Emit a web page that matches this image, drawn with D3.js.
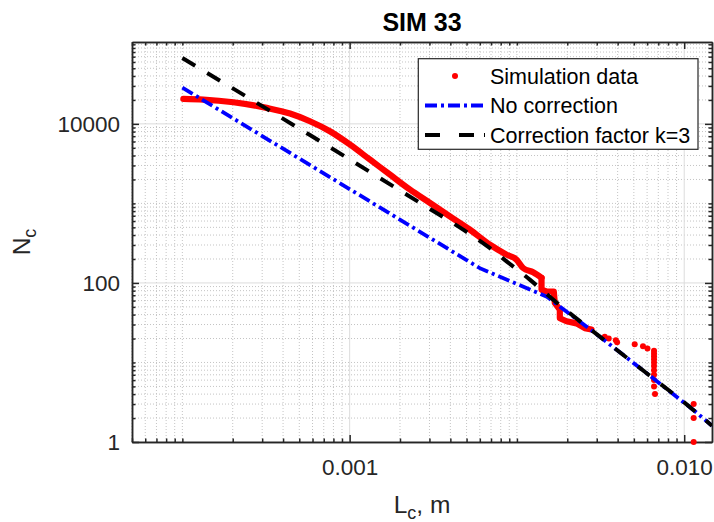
<!DOCTYPE html>
<html>
<head>
<meta charset="utf-8">
<script src="https://cdn.jsdelivr.net/npm/d3@7"></script>
<style>
    html, body { margin: 0; padding: 0; background: #fff; }
    svg { display: block; font-family: "Liberation Sans", Arial, Helvetica, sans-serif; }
</style>
</head>
<body>
<div id="chart"></div>
<script>
// Simulation data: dense part (drawn as a thick run of dots)
const simCurveLc = [1.014e-4, 1.335e-4, 2.017e-4, 3.19e-4, 4.40e-4, 5.79e-4, 7.62e-4, 1.004e-3,
    1.322e-3, 1.740e-3, 2.292e-3, 3.018e-3, 3.973e-3, 5.232e-3, 6.89e-3, 8.67e-3, 9.95e-3,
    1.089e-2, 1.25e-2, 1.403e-2, 1.403e-2, 1.502e-2, 1.661e-2, 1.684e-2, 1.805e-2, 1.805e-2,
    1.978e-2, 2.27e-2, 2.544e-2, 2.79e-2];
const simCurveN = [20620, 20220, 18700, 15890, 13480, 10780, 8070, 5490,
    3556, 2303, 1492, 1015, 688, 468, 303, 227, 196,
    154, 136, 116, 82, 78, 78, 56, 46, 36,
    33, 31, 27, 26];

// Simulation data: sparse tail (single dots)
const simDotLc = [3.35e-2, 3.54e-2, 3.90e-2, 3.97e-2, 5.06e-2, 5.67e-2, 6.03e-2,
    6.60e-2, 6.60e-2, 6.60e-2, 6.60e-2, 6.60e-2, 6.60e-2, 6.60e-2, 6.60e-2, 6.60e-2, 6.60e-2,
    6.69e-2, 0.1139, 0.1139, 0.1139];
const simDotN = [21, 20, 19, 18, 17, 16, 15,
    14, 13, 12, 11, 10, 9, 8, 7, 6, 5,
    4, 3, 2, 1];

// No correction
const noCorrLc = [1.0e-4, 6.0e-3, 1.51e-2, 3.13e-2, 5.94e-2, 0.1129, 0.1466];
const noCorrN = [28600, 153.5, 67, 21.1, 7.38, 2.55, 1.6];

// Correction factor k=3
const corrLc = [1.0e-4, 5.79e-4, 2.947e-3, 4.77e-3, 6.58e-3, 8.67e-3, 1.194e-2, 1.645e-2,
    3.13e-2, 5.94e-2, 0.1129, 0.1466];
const corrN = [67260, 7228, 878, 468, 294.6, 187, 110, 61.7,
    21.1, 7.38, 2.55, 1.6];

const xTickValues = [0.001, 0.1];
const xTickLabels = ["0.001", "0.010"];
const yTickValues = [1, 100, 10000];
const yTickLabels = ["1", "100", "10000"];
const legendLabels = ["Simulation data", "No correction", "Correction factor k=3"];

const margin = { top: 42, right: 2, bottom: 80, left: 132 };
const width = 714 - margin.left - margin.right;
const height = 522 - margin.top - margin.bottom;
const axisColor = "#262626";

const svg = d3.select("#chart").append("svg")
    .attr("width", 714)
    .attr("height", 522);

const plot = svg.append("g")
    .attr("transform", `translate(${margin.left},${margin.top})`);

const x = d3.scaleLog().domain([5e-5, 0.1466]).range([0, width]);
const y = d3.scaleLog().domain([1, 1.07e5]).range([height, 0]);

const isMajor = (v, majors) => majors.some(m => Math.abs(v / m - 1) < 1e-6);
const xMinor = x.ticks().filter(v => !isMajor(v, xTickValues));
const yMinor = y.ticks().filter(v => !isMajor(v, yTickValues));

// grid
plot.append("rect").attr("width", width).attr("height", height).attr("fill", "#fff");

plot.append("g").selectAll("line").data(xMinor).join("line")
    .attr("x1", d => x(d)).attr("x2", d => x(d))
    .attr("y1", 0).attr("y2", height)
    .attr("stroke", "#c4c4c4").attr("stroke-dasharray", "1,2");
plot.append("g").selectAll("line").data(yMinor).join("line")
    .attr("y1", d => y(d)).attr("y2", d => y(d))
    .attr("x1", 0).attr("x2", width)
    .attr("stroke", "#c4c4c4").attr("stroke-dasharray", "1,2");
plot.append("g").selectAll("line").data(xTickValues).join("line")
    .attr("x1", d => x(d)).attr("x2", d => x(d))
    .attr("y1", 0).attr("y2", height)
    .attr("stroke", "#dcdcdc");
plot.append("g").selectAll("line").data(yTickValues).join("line")
    .attr("y1", d => y(d)).attr("y2", d => y(d))
    .attr("x1", 0).attr("x2", width)
    .attr("stroke", "#dcdcdc");

// axes (ticks pointing inward on all four sides)
function styleAxis(g, size) {
    g.attr("font-family", null).attr("font-size", null);
    g.select(".domain").attr("stroke", axisColor).attr("stroke-width", 1.5);
    g.selectAll(".tick line").attr("stroke", axisColor).attr("stroke-width", 1.5);
    g.selectAll(".tick text").attr("fill", axisColor).style("font-size", size + "px");
}

const minorLen = -3.5, majorLen = -7;

plot.append("g").attr("transform", `translate(0,${height})`)
    .call(d3.axisBottom(x).tickValues(xMinor).tickSizeInner(minorLen).tickSizeOuter(0).tickFormat(""))
    .call(g => styleAxis(g, 22.5));
plot.append("g").attr("transform", `translate(0,${height})`)
    .call(d3.axisBottom(x).tickValues(xTickValues).tickSizeInner(majorLen).tickSizeOuter(0)
        .tickPadding(17).tickFormat((d, i) => xTickLabels[i]))
    .call(g => styleAxis(g, 22.5));
plot.append("g")
    .call(d3.axisTop(x).tickValues(xMinor).tickSizeInner(minorLen).tickSizeOuter(0).tickFormat(""))
    .call(g => styleAxis(g, 22.5));
plot.append("g")
    .call(d3.axisTop(x).tickValues(xTickValues).tickSizeInner(majorLen).tickSizeOuter(0).tickFormat(""))
    .call(g => styleAxis(g, 22.5));

plot.append("g")
    .call(d3.axisLeft(y).tickValues(yMinor).tickSizeInner(minorLen).tickSizeOuter(0).tickFormat(""))
    .call(g => styleAxis(g, 22.5));
plot.append("g")
    .call(d3.axisLeft(y).tickValues(yTickValues).tickSizeInner(majorLen).tickSizeOuter(0)
        .tickPadding(12).tickFormat((d, i) => yTickLabels[i]))
    .call(g => styleAxis(g, 22.5));
plot.append("g").attr("transform", `translate(${width},0)`)
    .call(d3.axisRight(y).tickValues(yMinor).tickSizeInner(minorLen).tickSizeOuter(0).tickFormat(""))
    .call(g => styleAxis(g, 22.5));
plot.append("g").attr("transform", `translate(${width},0)`)
    .call(d3.axisRight(y).tickValues(yTickValues).tickSizeInner(majorLen).tickSizeOuter(0).tickFormat(""))
    .call(g => styleAxis(g, 22.5));

// data
plot.append("clipPath").attr("id", "clip")
    .append("rect").attr("width", width).attr("height", height);

const line = d3.line()
    .x(d => x(d[0]))
    .y(d => y(d[1]));
const smoothLine = d3.line()
    .x(d => x(d[0]))
    .y(d => y(d[1]))
    .curve(d3.curveMonotoneX);

const simCurve = simCurveLc.map((v, i) => [v, simCurveN[i]]);
const simDots = simDotLc.map((v, i) => [v, simDotN[i]]);
const noCorr = noCorrLc.map((v, i) => [v, noCorrN[i]]);
const corr = corrLc.map((v, i) => [v, corrN[i]]);

// the smooth head of the red run, then the stepped part
const stepStart = 19;
[smoothLine(simCurve.slice(0, stepStart + 1)), line(simCurve.slice(stepStart))].forEach(dPath => {
    plot.append("path")
        .attr("d", dPath)
        .attr("fill", "none")
        .attr("stroke", "#ff0000")
        .attr("stroke-width", 6.2)
        .attr("stroke-linecap", "round")
        .attr("stroke-linejoin", "round");
});

plot.append("g").selectAll("circle").data(simDots).join("circle")
    .attr("cx", d => x(d[0]))
    .attr("cy", d => y(d[1]))
    .attr("r", 3)
    .attr("fill", "#ff0000");

plot.append("path")
    .datum(noCorr)
    .attr("clip-path", "url(#clip)")
    .attr("d", line)
    .attr("fill", "none")
    .attr("stroke", "#0000ff")
    .attr("stroke-width", 3.8)
    .attr("stroke-dasharray", "12,4,3,4");

plot.append("path")
    .datum(corr)
    .attr("clip-path", "url(#clip)")
    .attr("d", smoothLine)
    .attr("fill", "none")
    .attr("stroke", "#000")
    .attr("stroke-width", 4)
    .attr("stroke-dasharray", "15,14");

// legend
const legend = plot.append("g").attr("transform", "translate(286.3,16.7)");
legend.append("rect")
    .attr("width", 279.7).attr("height", 90.6)
    .attr("fill", "#fff").attr("stroke", axisColor).attr("stroke-width", 1.2);

const rows = legend.selectAll("g.row").data(legendLabels).join("g")
    .attr("class", "row")
    .attr("transform", (d, i) => `translate(0,${17.3 + i * 29.5})`);

rows.append("text")
    .attr("x", 71.7)
    .attr("dy", "0.36em")
    .attr("fill", "#000")
    .style("font-size", "21.5px")
    .text(d => d);

rows.filter((d, i) => i === 0).append("circle")
    .attr("cx", 36.7).attr("cy", 0).attr("r", 3).attr("fill", "#ff0000");
rows.filter((d, i) => i === 1).append("line")
    .attr("x1", 6.7).attr("x2", 66.7).attr("y1", 0).attr("y2", 0)
    .attr("stroke", "#0000ff").attr("stroke-width", 3.8)
    .attr("stroke-dasharray", "12,4,3,4");
rows.filter((d, i) => i === 2).append("line")
    .attr("x1", 6.7).attr("x2", 66.7).attr("y1", 0).attr("y2", 0)
    .attr("stroke", "#000").attr("stroke-width", 4)
    .attr("stroke-dasharray", "15,19,15,10,2,100");

// title and axis labels
svg.append("text")
    .attr("x", margin.left + width / 2)
    .attr("y", 31)
    .attr("text-anchor", "middle")
    .attr("font-weight", "bold")
    .style("font-size", "25px")
    .attr("fill", "#000")
    .text("SIM 33");

const xLabel = svg.append("text")
    .attr("x", margin.left + width / 2)
    .attr("y", 513)
    .attr("text-anchor", "middle")
    .attr("fill", axisColor)
    .style("font-size", "24.5px");
xLabel.append("tspan").text("L");
xLabel.append("tspan").attr("dy", 6).style("font-size", "18px").text("c");
xLabel.append("tspan").attr("dy", -6).text(", m");

const yLabel = svg.append("text")
    .attr("transform", "rotate(-90)")
    .attr("x", -(margin.top + height / 2))
    .attr("y", 30)
    .attr("text-anchor", "middle")
    .attr("fill", axisColor)
    .style("font-size", "24.5px");
yLabel.append("tspan").text("N");
yLabel.append("tspan").attr("dy", 6).style("font-size", "18px").text("c");
</script>
</body>
</html>
